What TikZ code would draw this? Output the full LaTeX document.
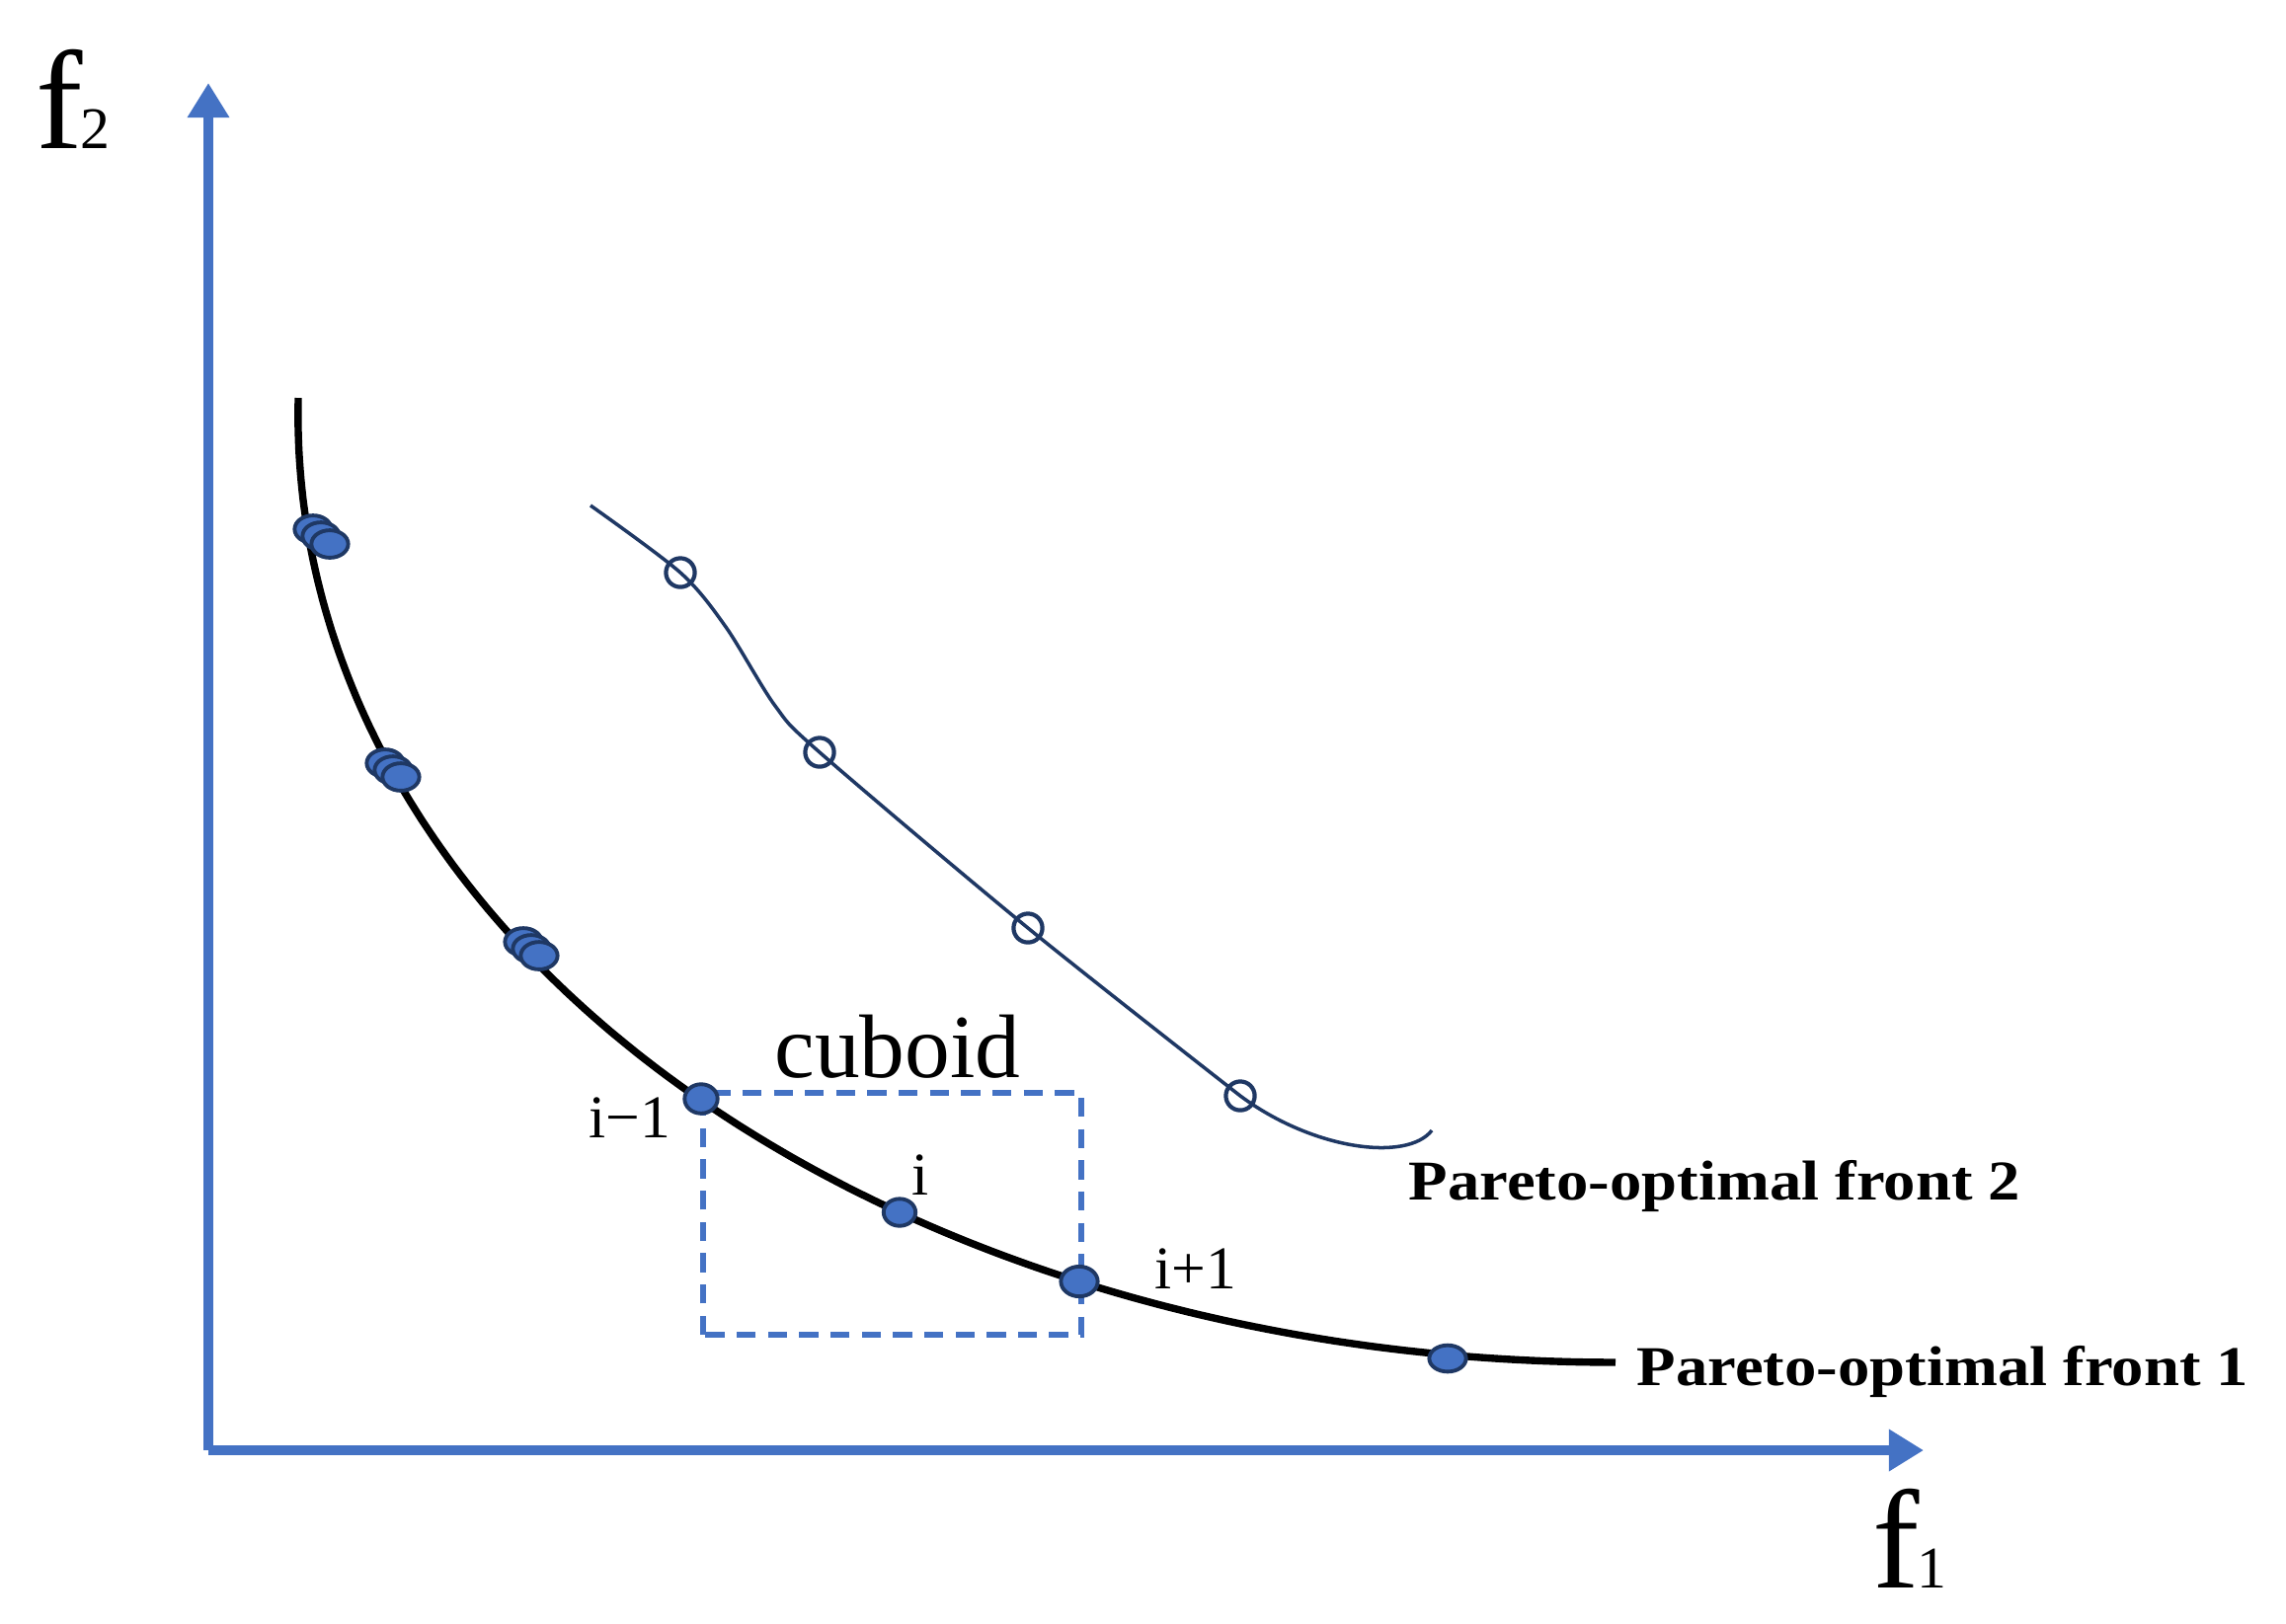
\documentclass[tikz,border=0pt]{standalone}
\usepackage{fontspec}
\setmainfont{Liberation Serif}
\usetikzlibrary{arrows.meta,shapes.geometric}
\definecolor{axisblue}{HTML}{4472C4}
\definecolor{navy}{HTML}{1F3864}
\tikzset{
  axis/.style={draw=axisblue, line width=2.6pt, -{Triangle[length=10pt,width=11.5pt]}},
  front1/.style={draw=black, line width=2.1pt},
  front2/.style={draw=navy, line width=1pt},
  dot/.style={ellipse, draw=navy, fill=axisblue, line width=1.1pt, minimum width=10.6pt, minimum height=7.9pt, inner sep=0pt},
  odot/.style={circle, draw=navy, line width=1.2pt, minimum size=8.3pt, inner sep=0pt},
  cubebox/.style={draw=axisblue, line width=1.5pt, dash pattern=on 5.5pt off 3.5pt},
  ilabel/.style={font=\fontsize{17.5}{20}\selectfont, inner sep=0pt},
  plabel/.style={font=\fontsize{18.4}{21}\selectfont\bfseries, inner sep=0pt, anchor=base west},
}
\begin{document}
\begin{tikzpicture}[x=0.01cm, y=-0.01cm]
\useasboundingbox (0,0) rectangle (2315,1644);
% axes
\coordinate (O) at (211,1469);
\coordinate (ytip) at (211,84);
\coordinate (xtip) at (1948,1469);
\draw[axis] (O) -- (ytip);
\draw[axis] (O) -- (xtip);
\node[anchor=base west, inner sep=0pt] (f2) at (36,150) {\fontsize{40.5}{44}\selectfont f\kern-0.8pt\fontsize{17}{20}\selectfont 2};
\node[anchor=base west, inner sep=0pt] (f1) at (1896,1608) {\fontsize{40.5}{44}\selectfont f\kern-0.8pt\fontsize{17}{20}\selectfont 1};
% front 1
\draw[front1, line cap=butt] plot[domain=0:90, samples=150, variable=\t] ({1636-1334*cos(\t)-12*sin(2*\t)}, {403+977*sin(\t)});
% front 2
\coordinate (f2s) at (598,512);
\coordinate (f2e) at (1450,1145);
\draw[front2] plot[smooth, tension=0.5] coordinates {(f2s) (689,580) (735,635) (785,715) (830,762) (1041,940) (1256,1110)} .. controls (1330,1165) and (1425,1177) .. (f2e);
% dashed cuboid
\coordinate (bl) at (712,1352);
\coordinate (tr) at (1095,1107);
\draw[cubebox] (bl) rectangle (tr);
% clusters
\node[dot] (c1a) at (317,536) {};
\node[dot] (c1b) at (325,543) {};
\node[dot] (c1c) at (334,551) {};
\node[dot] (c2a) at (390,773) {};
\node[dot] (c2b) at (398,780) {};
\node[dot] (c2c) at (406,787) {};
\node[dot] (c3a) at (530,954) {};
\node[dot] (c3b) at (538,961) {};
\node[dot] (c3c) at (546,968) {};
% points
\node[dot, minimum width=9.5pt, minimum height=8.4pt] (pim1) at (710,1113) {};
\node[dot, minimum width=9.2pt, minimum height=7.8pt] (pi) at (911,1228) {};
\node[dot, minimum width=10.6pt, minimum height=8.6pt] (pip1) at (1093,1298) {};
\node[dot, minimum width=10.6pt, minimum height=7.6pt] (plast) at (1466,1376) {};
% open circles
\node[odot] (o1) at (689,580) {};
\node[odot] (o2) at (830,762) {};
\node[odot] (o3) at (1041,940) {};
\node[odot] (o4) at (1256,1110) {};
% labels
\node[ilabel] (lim1) at (638,1132) {i−1};
\node[ilabel] (li) at (932,1190) {i};
\node[ilabel] (lip1) at (1211,1285) {i+1};
\node[inner sep=0pt, font=\fontsize{26}{30}\selectfont] (cub) at (909,1060) {cuboid};
\node[plabel] (pf2) at (1426,1215) {\scalebox{1}[0.88]{Pareto-optimal front 2}};
\node[plabel] (pf1) at (1657,1403) {\scalebox{1}[0.88]{Pareto-optimal front 1}};
\end{tikzpicture}
\end{document}
